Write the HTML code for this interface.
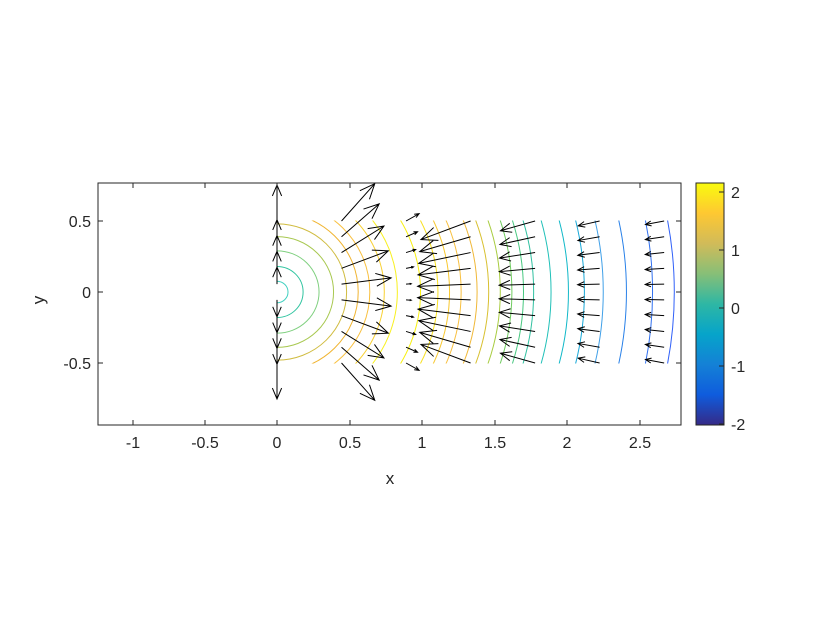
<!DOCTYPE html>
<html><head><meta charset="utf-8"><style>
html,body{margin:0;padding:0;background:#fff;width:840px;height:630px;overflow:hidden;}
svg{display:block;}
svg text{font-family:"Liberation Sans",sans-serif;fill:#262626;}
</style></head><body>
<svg id="s" width="840" height="630" viewBox="0 0 840 630" xmlns="http://www.w3.org/2000/svg">
<defs>
<clipPath id="cr"><rect x="277" y="220.5" width="402" height="143"/></clipPath>
<linearGradient id="pg" x1="0" y1="1" x2="0" y2="0">
<stop offset="0" stop-color="#352a87"/><stop offset="0.125" stop-color="#0f5cdd"/>
<stop offset="0.25" stop-color="#1481d6"/><stop offset="0.375" stop-color="#06a4ca"/>
<stop offset="0.5" stop-color="#2eb7a4"/><stop offset="0.625" stop-color="#87bf77"/>
<stop offset="0.75" stop-color="#d1bb59"/><stop offset="0.875" stop-color="#fec832"/>
<stop offset="1" stop-color="#f9fb0e"/></linearGradient>
</defs>
<rect x="98" y="183" width="583" height="242" fill="#fff"/>
<g id="cont" clip-path="url(#cr)" fill="none" stroke-width="1"></g>
<g id="arr" stroke="#000" stroke-width="1" fill="none"></g>
<rect x="98" y="183" width="583" height="242" fill="none" stroke="#262626" stroke-width="1"/>
<g stroke="#262626" stroke-width="1">
<line x1="133" y1="425" x2="133" y2="420"/><line x1="205" y1="425" x2="205" y2="420"/>
<line x1="277" y1="425" x2="277" y2="420"/><line x1="350" y1="425" x2="350" y2="420"/>
<line x1="422" y1="425" x2="422" y2="420"/><line x1="495" y1="425" x2="495" y2="420"/>
<line x1="567" y1="425" x2="567" y2="420"/><line x1="640" y1="425" x2="640" y2="420"/>
<line x1="133" y1="183" x2="133" y2="188"/><line x1="205" y1="183" x2="205" y2="188"/>
<line x1="277" y1="183" x2="277" y2="188"/><line x1="350" y1="183" x2="350" y2="188"/>
<line x1="422" y1="183" x2="422" y2="188"/><line x1="495" y1="183" x2="495" y2="188"/>
<line x1="567" y1="183" x2="567" y2="188"/><line x1="640" y1="183" x2="640" y2="188"/>
<line x1="98" y1="221" x2="103" y2="221"/><line x1="98" y1="292" x2="103" y2="292"/><line x1="98" y1="363" x2="103" y2="363"/>
<line x1="681" y1="221" x2="676" y2="221"/><line x1="681" y1="292" x2="676" y2="292"/><line x1="681" y1="363" x2="676" y2="363"/>
</g>
<g font-size="16" text-anchor="middle">
<text x="133" y="448">-1</text><text x="205" y="448">-0.5</text><text x="277" y="448">0</text>
<text x="350" y="448">0.5</text><text x="422" y="448">1</text><text x="495" y="448">1.5</text>
<text x="567" y="448">2</text><text x="640" y="448">2.5</text>
<text x="390" y="484" font-size="17">x</text>
</g>
<g font-size="16" text-anchor="end">
<text x="91" y="227">0.5</text><text x="91" y="298">0</text><text x="91" y="369">-0.5</text>
</g>
<text x="44" y="300" font-size="17" text-anchor="middle" transform="rotate(-90 44 300)">y</text>
<rect x="696" y="183" width="28" height="242" fill="url(#pg)" stroke="#262626" stroke-width="1"/>
<g stroke="#262626" stroke-width="1">
<line x1="719" y1="192" x2="724" y2="192"/><line x1="719" y1="250" x2="724" y2="250"/>
<line x1="719" y1="308" x2="724" y2="308"/><line x1="719" y1="366" x2="724" y2="366"/>
<line x1="719" y1="424" x2="724" y2="424"/>
</g>
<g font-size="16" text-anchor="start">
<text x="731" y="198">2</text><text x="731" y="256">1</text><text x="731" y="314">0</text>
<text x="731" y="372">-1</text><text x="731" y="430">-2</text>
</g>
</svg>
<script>
var NS="http://www.w3.org/2000/svg";
function el(p,t,a){var e=document.createElementNS(NS,t);for(var k in a)e.setAttribute(k,a[k]);p.appendChild(e);return e;}
var X0=277,Y0=292,SX=145,SY=142;
var cs=[[0.076,"#40d0c0"],[0.18,"#30c4a0"],[0.29,"#80d080"],[0.39,"#a8c850"],[0.48,"#d0bc40"],[0.56,"#f0b430"],[0.64,"#f8c040"],[0.74,"#f8d030"],[0.83,"#f8f020"],[0.99,"#f8f010"],[1.11,"#f8e020"],[1.19,"#f8c830"],[1.27,"#f8c040"],[1.38,"#f0b838"],[1.46,"#d8c030"],[1.54,"#a8cc40"],[1.62,"#70cc60"],[1.70,"#48c880"],[1.77,"#30c0a0"],[1.89,"#20c0b8"],[2.01,"#10b8c8"],[2.12,"#18a8d8"],[2.25,"#40a0e8"],[2.41,"#2880e8"],[2.59,"#3070f0"],[2.74,"#3060f8"]];
var g=document.getElementById("cont");
cs.forEach(function(c){el(g,"ellipse",{cx:X0,cy:Y0,rx:c[0]*SX,ry:c[0]*SY,stroke:c[1]});});
var a=document.getElementById("arr");
function arrow(x1,y1,x2,y2,hmin){
 var dx=x2-x1,dy=y2-y1,L=Math.sqrt(dx*dx+dy*dy);if(L<0.5)return;
 var ux=dx/L,uy=dy/L,h=Math.max(L*0.33,hmin||0),s=0.4;
 var c=Math.cos(s),sn=Math.sin(s);
 var b1x=x2-h*(ux*c-uy*sn),b1y=y2-h*(uy*c+ux*sn);
 var b2x=x2-h*(ux*c+uy*sn),b2y=y2-h*(uy*c-ux*sn);
 el(a,"path",{d:"M"+x1+" "+y1+"L"+x2+" "+y2+"M"+b1x+" "+b1y+"L"+x2+" "+y2+"L"+b2x+" "+b2y});
}
var rows=[];for(var i=0;i<10;i++)rows.push(-0.5+i/9);
rows.forEach(function(y){var py=Y0-y*SY,L=Math.abs(y)>0.45?36:17;var d=y>0?-1:1;arrow(X0,py,X0,py+d*L,11);});
var cols=[[0.445,50,1],[0.89,10,1],[1.335,53,-1],[1.78,36,-1],[2.225,22,-1],[2.67,19,-1]];
cols.forEach(function(c){var x=c[0];rows.forEach(function(y){
 var r=Math.sqrt(x*x+y*y),px=X0+x*SX,py=Y0-y*SY,L=c[1];
 if(c[0]==0.89){L=4+22*Math.abs(y);}
 arrow(px,py,px+c[2]*L*x/r,py-c[2]*L*y/r);});});
</script>
</body></html>
